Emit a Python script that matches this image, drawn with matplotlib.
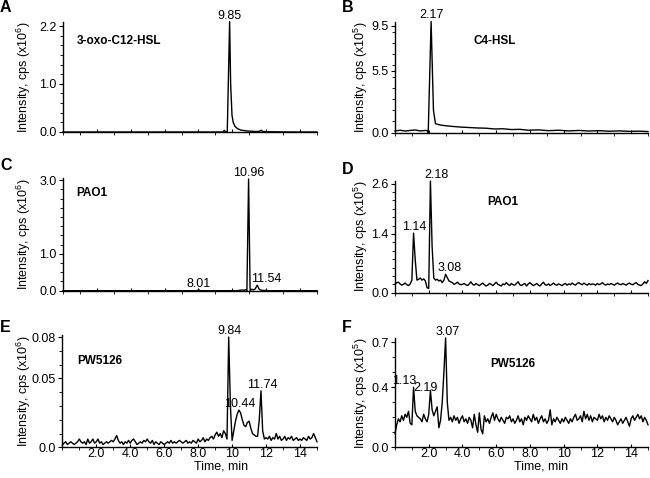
import numpy as np
import matplotlib
matplotlib.use('Agg')
import matplotlib.pyplot as plt
from matplotlib.ticker import MultipleLocator

plt.rcParams['font.family'] = ['Liberation Sans', 'DejaVu Sans']
plt.rcParams['mathtext.fontset'] = 'custom'
plt.rcParams['mathtext.rm'] = 'Liberation Sans'
plt.rcParams['mathtext.default'] = 'regular'

# 0.1 min sampling grid for the noisy traces (D, E, F)
t_grid = np.round(np.arange(0, 15.01, 0.1), 1)

# A: 3-oxo-C12-HSL standard (x10^6 cps)
a_time = [0, 3, 6, 9, 9.45, 9.53, 9.6, 9.7, 9.84, 9.9, 9.98, 10.05, 10.15, 10.3,
          10.5, 10.9, 11.4, 11.6, 11.7, 11.8, 12.2, 13.5, 15]
a_int = [0, 0, 0, 0, 0, 0.035, 0, 0, 2.29, 1.0, 0.35, 0.2, 0.12, 0.07,
         0.04, 0.02, 0.01, 0.015, 0.035, 0.01, 0.005, 0, 0]
a_peaks = ['9.85']

# B: C4-HSL standard (x10^5 cps)
b_time = [0, 0.3, 0.6, 0.9, 1.2, 1.5, 1.8, 1.93, 1.97, 2.14, 2.28, 2.4, 2.7, 3.0,
          3.4, 3.9, 4.4, 4.9, 5.4, 5.9, 6.4, 6.9, 7.4, 7.9, 8.5, 9.1, 9.7, 10.3,
          10.9, 11.5, 12.1, 12.7, 13.3, 13.9, 14.5, 15.0]
b_int = [0.15, 0.22, 0.15, 0.2, 0.24, 0.16, 0.2, 0.18, 0.0, 9.9, 2.0, 0.8, 0.68, 0.62,
         0.56, 0.5, 0.46, 0.42, 0.4, 0.33, 0.35, 0.28, 0.3, 0.22, 0.25, 0.18, 0.22, 0.16,
         0.2, 0.15, 0.18, 0.13, 0.16, 0.12, 0.14, 0.1]
b_peaks = ['2.17']

# C: PAO1 extract, 3-oxo-C12-HSL channel (x10^6 cps)
c_time = [0, 4, 7.9, 8.01, 8.12, 10.3, 10.5, 10.6, 10.7, 10.8, 10.86, 10.96, 11.05,
          11.15, 11.25, 11.35, 11.47, 11.6, 11.75, 12.2, 15]
c_int = [0, 0, 0, 0.025, 0, 0, 0.015, 0.02, 0.01, 0.03, 0.0, 3.03, 0.0,
         0.04, 0.02, 0.05, 0.15, 0.03, 0.01, 0, 0]
c_peaks = ['8.01', '10.96', '11.54']

# D: PAO1 extract, C4-HSL channel (x10^5 cps), on t_grid
d_int = [
    0.20, 0.24, 0.25, 0.21, 0.18, 0.20, 0.23, 0.19, 0.17, 0.21,
    0.30, 1.42, 0.78, 0.30, 0.32, 0.35, 0.30, 0.33, 0.28, 0.12,
    0.10, 2.66, 1.10, 0.35, 0.30, 0.32, 0.28, 0.30, 0.24, 0.30,
    0.44, 0.36, 0.28, 0.26, 0.24, 0.20, 0.22, 0.25, 0.21, 0.19,
    0.20, 0.22, 0.19, 0.17, 0.21, 0.26, 0.20, 0.18, 0.22, 0.19,
    0.17, 0.20, 0.23, 0.19, 0.16, 0.18, 0.22, 0.20, 0.17, 0.21,
    0.25, 0.20, 0.18, 0.16, 0.21, 0.19, 0.24, 0.20, 0.17, 0.22,
    0.19, 0.18, 0.22, 0.26, 0.19, 0.17, 0.20, 0.22, 0.16, 0.21,
    0.24, 0.20, 0.17, 0.19, 0.22, 0.18, 0.16, 0.21, 0.25, 0.19,
    0.18, 0.21, 0.17, 0.20, 0.23, 0.19, 0.18, 0.21, 0.19, 0.17,
    0.20, 0.22, 0.18, 0.21, 0.19, 0.23, 0.20, 0.18, 0.22, 0.24,
    0.21, 0.19, 0.23, 0.20, 0.18, 0.22, 0.19, 0.21, 0.20, 0.18,
    0.22, 0.19, 0.21, 0.24, 0.20, 0.18, 0.21, 0.19, 0.22, 0.20,
    0.18, 0.21, 0.23, 0.20, 0.19, 0.22, 0.20, 0.18, 0.21, 0.23,
    0.20, 0.19, 0.22, 0.24, 0.20, 0.18, 0.17, 0.21, 0.26, 0.22,
    0.29]
d_peaks = ['1.14', '2.18', '3.08']

# E: PW5126 extract, 3-oxo-C12-HSL channel (x10^6 cps), on t_grid
e_int = [
    0.0015, 0.003, 0.004, 0.002, 0.003, 0.004, 0.003, 0.002, 0.003, 0.004,
    0.006, 0.004, 0.003, 0.004, 0.002, 0.006, 0.003, 0.004, 0.006, 0.003,
    0.004, 0.006, 0.003, 0.004, 0.002, 0.003, 0.004, 0.003, 0.004, 0.005,
    0.004, 0.006, 0.0085, 0.005, 0.003, 0.004, 0.002, 0.004, 0.003, 0.005,
    0.003, 0.005, 0.006, 0.004, 0.002, 0.003, 0.004, 0.003, 0.005, 0.004,
    0.006, 0.004, 0.003, 0.005, 0.002, 0.004, 0.003, 0.002, 0.004, 0.003,
    0.002, 0.003, 0.004, 0.003, 0.005, 0.003, 0.004, 0.003, 0.004, 0.005,
    0.004, 0.003, 0.004, 0.005, 0.003, 0.004, 0.003, 0.005, 0.004, 0.003,
    0.006, 0.004, 0.005, 0.007, 0.004, 0.006, 0.005, 0.007, 0.008, 0.006,
    0.009, 0.011, 0.008, 0.010, 0.007, 0.012, 0.010, 0.006, 0.080, 0.030,
    0.005, 0.012, 0.019, 0.024, 0.027, 0.025, 0.020, 0.016, 0.015, 0.018,
    0.019, 0.014, 0.010, 0.009, 0.008, 0.008, 0.020, 0.041, 0.012, 0.006,
    0.007, 0.006, 0.008, 0.005, 0.007, 0.006, 0.010, 0.006, 0.008, 0.005,
    0.006, 0.008, 0.005, 0.007, 0.006, 0.008, 0.005, 0.006, 0.007, 0.005,
    0.006, 0.005, 0.007, 0.006, 0.005, 0.008, 0.006, 0.007, 0.010, 0.007,
    0.004]
e_peaks = ['9.84', '10.44', '11.74']

# F: PW5126 extract, C4-HSL channel (x10^5 cps), on t_grid
f_int = [
    0.09, 0.15, 0.19, 0.17, 0.21, 0.18, 0.22, 0.20, 0.24, 0.16,
    0.15, 0.40, 0.24, 0.21, 0.20, 0.19, 0.17, 0.22, 0.19, 0.17,
    0.22, 0.38, 0.25, 0.21, 0.24, 0.27, 0.13, 0.18, 0.30, 0.50,
    0.73, 0.30, 0.18, 0.20, 0.17, 0.21, 0.18, 0.20, 0.16, 0.19,
    0.21, 0.17, 0.19, 0.16, 0.20, 0.18, 0.13, 0.22, 0.15, 0.10,
    0.23, 0.12, 0.09, 0.21, 0.17, 0.19, 0.16, 0.20, 0.23, 0.18,
    0.22, 0.19, 0.17, 0.20, 0.18, 0.16, 0.20, 0.19, 0.21, 0.17,
    0.19, 0.16, 0.18, 0.21, 0.17, 0.19, 0.15, 0.20, 0.18, 0.21,
    0.19, 0.17, 0.22, 0.18, 0.20, 0.16, 0.19, 0.21, 0.17, 0.19,
    0.16, 0.18, 0.25, 0.15, 0.19, 0.17, 0.20, 0.18, 0.16, 0.19,
    0.17, 0.20, 0.18, 0.16, 0.19, 0.17, 0.20, 0.22, 0.18, 0.19,
    0.21, 0.17, 0.24, 0.19, 0.22, 0.18, 0.21, 0.17, 0.20, 0.19,
    0.18, 0.22, 0.19, 0.21, 0.17, 0.20, 0.18, 0.21, 0.19, 0.17,
    0.20, 0.18, 0.15, 0.17, 0.19, 0.16, 0.18, 0.20, 0.17, 0.14,
    0.19, 0.21, 0.18, 0.20, 0.22, 0.19, 0.21, 0.17, 0.20, 0.18,
    0.15]
f_peaks = ['1.13', '2.19', '3.07']

x_ticks = [2, 4, 6, 8, 10, 12, 14]
x_ticklabels = ['2.0', '4.0', '6.0', '8.0', '10', '12', '14']

W, H = 650, 478
fig = plt.figure(figsize=(W / 100, H / 100), dpi=100)


def px_axes(x0, x1, ytop, ybot):
    return fig.add_axes([x0 / W, 1 - ybot / H, (x1 - x0) / W, (ybot - ytop) / H])


# letter, name, time, intensity, exponent, yticks, yticklabels, ylim top, minor step,
# peak labels, label nudges (px), axes box px, name pos px, letter pos px, bottom row
panels = [
    ('A', '3-oxo-C12-HSL', a_time, a_int, 6, [0, 1.0, 2.2], ['0.0', '1.0', '2.2'], 2.29, 0.2,
     a_peaks, [(0, 0)], (63, 317, 21.7, 132), (76.7, 35.5), (0, 0.5), False),
    ('B', 'C4-HSL', b_time, b_int, 5, [0, 5.5, 9.5], ['0.0', '5.5', '9.5'], 9.88, 1.0,
     b_peaks, [(0, 0)], (395, 648, 21.7, 132.7), (473.3, 35.5), (342, 0.5), False),
    ('C', 'PAO1', c_time, c_int, 6, [0, 1.0, 3.0], ['0.0', '1.0', '3.0'], 3.05, 0.25,
     c_peaks, [(0, 0), (0, 0), (8, 0)], (63, 317, 178.3, 290.7), (76.7, 187), (0, 157.5), False),
    ('D', 'PAO1', t_grid, d_int, 5, [0, 1.4, 2.6], ['0.0', '1.4', '2.6'], 2.67, 0.2,
     d_peaks, [(0, 0), (5, 0), (3, 0)], (395, 648, 180.7, 292.7), (487.3, 196), (342, 162.5), False),
    ('E', 'PW5126', t_grid, e_int, 6, [0, 0.05, 0.08], ['0.0', '0.05', '0.08'], 0.0815, 0.01,
     e_peaks, [(0, 0), (0, 0), (1, 0)], (62.3, 317, 335, 447.3), (77.3, 354.5), (0, 320.5), True),
    ('F', 'PW5126', t_grid, f_int, 5, [0, 0.4, 0.7], ['0.0', '0.4', '0.7'], 0.727, 0.1,
     f_peaks, [(-10, 0), (-6, -4), (1, 0)], (395, 648, 338.3, 447.3), (490.7, 357.8), (342, 320.5), True),
]

for (letter, name, t, y, exp, yt, ytl, ytop, minor, peaks, nudges,
     box, name_xy, letter_xy, bottom) in panels:
    ax = px_axes(*box)
    t = np.asarray(t, dtype=float)
    y = np.asarray(y, dtype=float)
    ax.plot(t, y, color='black', lw=1.0, clip_on=False)
    ax.set_xlim(0, 15)
    ax.set_ylim(0, ytop)
    for s in ['top', 'right']:
        ax.spines[s].set_visible(False)
    for s in ['left', 'bottom']:
        ax.spines[s].set_linewidth(1.0)
    ax.set_yticks(yt)
    ax.set_yticklabels(ytl)
    ax.yaxis.set_minor_locator(MultipleLocator(minor))
    ax.set_xticks(x_ticks)
    ax.xaxis.set_minor_locator(MultipleLocator(1))
    ax.tick_params(which='major', length=3, width=0.8, labelsize=9, pad=1.5)
    ax.tick_params(which='minor', length=2, width=0.6)
    # labelled x ticks point into the plot so the numbers sit right under the axis
    ax.tick_params(axis='x', which='major', direction='in', length=2, pad=0.5)
    if bottom:
        ax.set_xticklabels(x_ticklabels)
        ax.set_xlabel('Time, min', fontsize=9)
        # axis title sits right of centre in the original
        xl = ((221 if box[0] < 300 else 541) - box[0]) / (box[1] - box[0])
        ax.xaxis.set_label_coords(xl, -0.12)
    else:
        ax.tick_params(axis='x', labelbottom=False)

    ax.set_ylabel('Intensity, cps (x10$^{%d}$)' % exp, fontsize=9)
    lx = ((33 if box[0] < 300 else 370) - box[0]) / (box[1] - box[0])
    ax.yaxis.set_label_coords(lx, 0.5)

    # peak retention-time labels, placed on the local maximum of the trace
    for lab, (dx, dy) in zip(peaks, nudges):
        tp = float(lab)
        win = (t >= tp - 0.25) & (t <= tp + 0.25)
        ymax = y[win].max()
        ax.annotate(lab, (tp, ymax), xytext=(dx * 0.72, dy * 0.72), textcoords='offset points',
                    ha='center', va='bottom', fontsize=9, annotation_clip=False)

    fig.text(name_xy[0] / W, 1 - name_xy[1] / H, name, fontsize=8.5, fontweight='bold',
             ha='left', va='top')
    fig.text(letter_xy[0] / W, 1 - letter_xy[1] / H, letter, fontsize=11.5, fontweight='bold',
             ha='left', va='top')

fig.savefig('out.png', dpi=100)
